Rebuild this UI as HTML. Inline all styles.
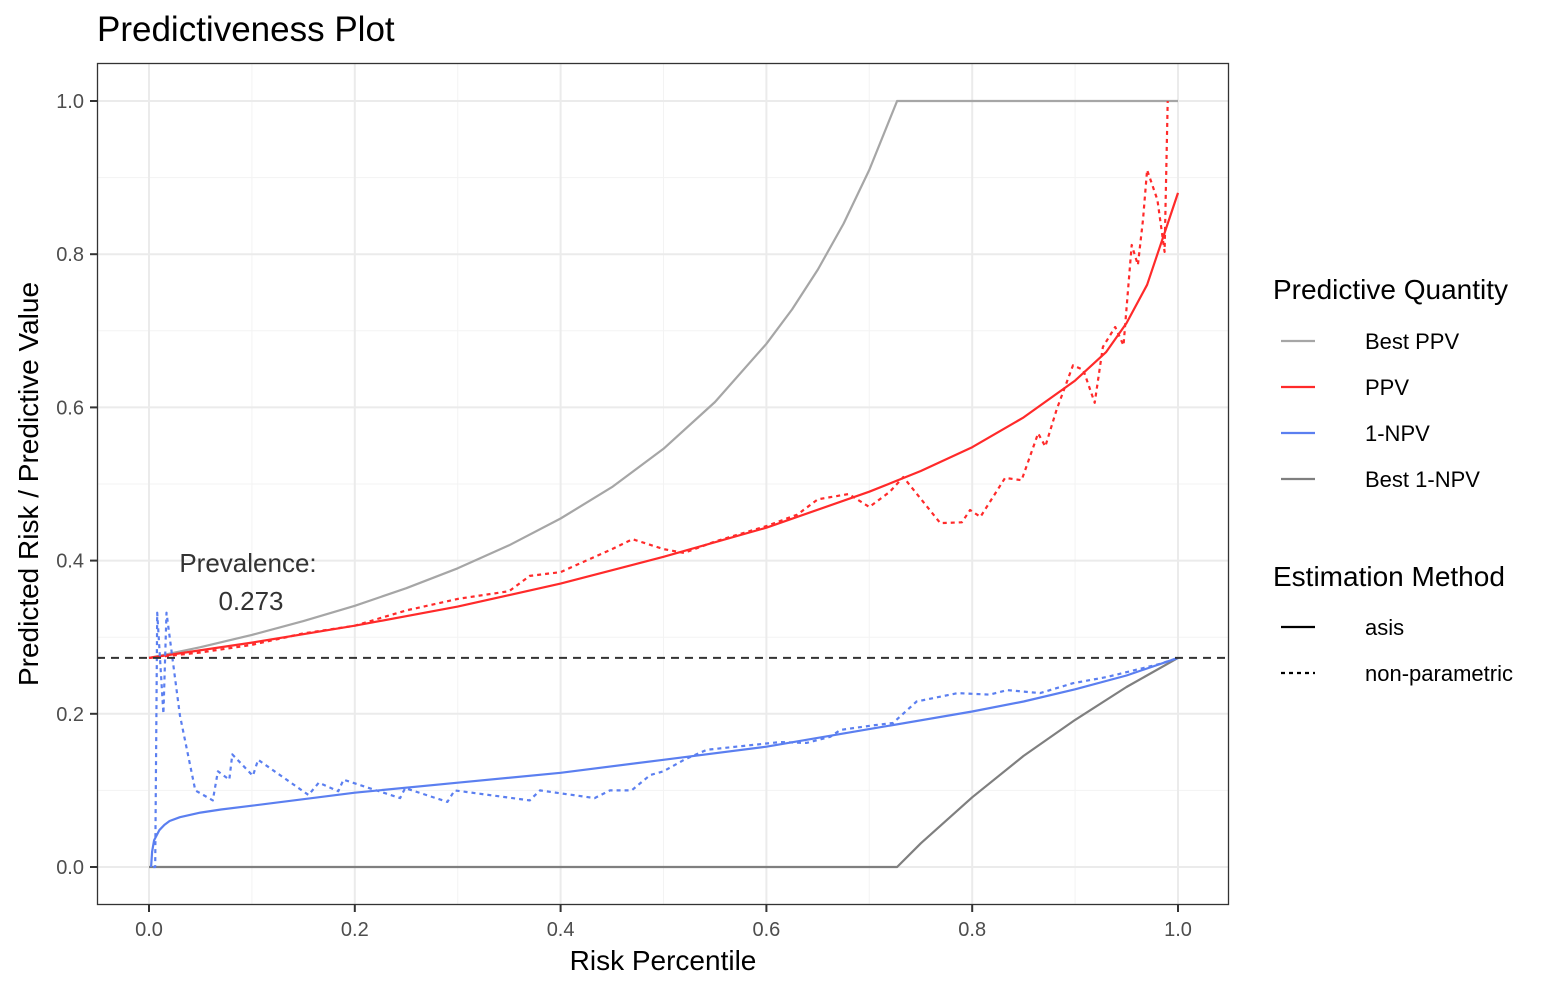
<!DOCTYPE html>
<html><head><meta charset="utf-8"><style>
body{margin:0;background:#fff;}
svg text{font-family:"Liberation Sans",sans-serif;}
</style></head><body>
<svg id="chart" width="1552" height="992" xmlns="http://www.w3.org/2000/svg">
<rect width="1552" height="992" fill="#fff"/>
<text x="97" y="41" font-size="35" fill="#000">Predictiveness Plot</text>
<g id="grid"></g><g id="series"></g><g id="axes"></g>
<text x="663" y="970" font-size="28" text-anchor="middle" fill="#000">Risk Percentile</text>
<text transform="translate(38,484) rotate(-90)" font-size="28" text-anchor="middle" fill="#000">Predicted Risk / Predictive Value</text>
<text x="248" y="572" font-size="26" text-anchor="middle" fill="#333">Prevalence:</text>
<text x="251" y="610" font-size="26" text-anchor="middle" fill="#333">0.273</text>
<g>
<text x="1273" y="299" font-size="28">Predictive Quantity</text>
<g><line x1="1281" x2="1315" y1="341" y2="341" stroke="#a6a6a6" stroke-width="2.2"/><text x="1365" y="349" font-size="22">Best PPV</text></g>
<g><line x1="1281" x2="1315" y1="387" y2="387" stroke="#ff2a2a" stroke-width="2.2"/><text x="1365" y="395" font-size="22">PPV</text></g>
<g><line x1="1281" x2="1315" y1="433" y2="433" stroke="#5b7ff0" stroke-width="2.2"/><text x="1365" y="441" font-size="22">1-NPV</text></g>
<g><line x1="1281" x2="1315" y1="479" y2="479" stroke="#7f7f7f" stroke-width="2.2"/><text x="1365" y="487" font-size="22">Best 1-NPV</text></g>
<text x="1273" y="586" font-size="28">Estimation Method</text>
<g><line x1="1281" x2="1315" y1="627" y2="627" stroke="#000" stroke-width="2.2"/><text x="1365" y="635" font-size="22">asis</text></g>
<g><line x1="1281" x2="1315" y1="673" y2="673" stroke="#000" stroke-width="2.2" stroke-dasharray="4,4"/><text x="1365" y="681" font-size="22">non-parametric</text></g>
</g>
</svg>
<script>
const xTicks=[0,0.2,0.4,0.6,0.8,1.0];
const yTicks=[0,0.2,0.4,0.6,0.8,1.0];
const prevalence=0.273;
const bestPpvX=[0,0.05,0.1,0.15,0.2,0.25,0.3,0.35,0.4,0.45,0.5,0.55,0.6,0.625,0.65,0.675,0.7,0.727,1.0];
const bestPpvY=[0.273,0.287,0.303,0.321,0.341,0.364,0.39,0.42,0.455,0.496,0.546,0.607,0.683,0.728,0.78,0.84,0.91,1.0,1.0];
const bestNpvX=[0,0.727,0.75,0.8,0.85,0.9,0.95,1.0];
const bestNpvY=[0,0,0.031,0.091,0.145,0.192,0.235,0.273];
const ppvX=[0,0.1,0.2,0.3,0.4,0.5,0.6,0.7,0.75,0.8,0.85,0.9,0.93,0.95,0.97,0.98,0.99,1.0];
const ppvY=[0.273,0.293,0.315,0.34,0.37,0.405,0.443,0.49,0.517,0.548,0.587,0.635,0.672,0.71,0.76,0.8,0.84,0.88];
const ppvNpX=[0,0.05,0.1,0.15,0.2,0.25,0.3,0.35,0.37,0.4,0.45,0.47,0.5,0.52,0.55,0.6,0.63,0.65,0.68,0.7,0.72,0.733,0.769,0.79,0.798,0.808,0.832,0.848,0.864,0.871,0.882,0.898,0.908,0.919,0.927,0.939,0.947,0.955,0.961,0.966,0.97,0.98,0.987,0.99];
const ppvNpY=[0.273,0.28,0.29,0.305,0.315,0.335,0.35,0.36,0.38,0.385,0.415,0.428,0.415,0.41,0.425,0.445,0.46,0.48,0.487,0.47,0.49,0.509,0.449,0.45,0.466,0.457,0.508,0.505,0.566,0.549,0.597,0.655,0.649,0.606,0.679,0.705,0.681,0.812,0.786,0.845,0.91,0.871,0.803,1.0];
const npvX=[0.002,0.003,0.005,0.01,0.015,0.02,0.03,0.05,0.07,0.1,0.2,0.3,0.4,0.5,0.6,0.7,0.8,0.85,0.9,0.95,1.0];
const npvY=[0,0.02,0.035,0.048,0.055,0.06,0.065,0.071,0.075,0.08,0.097,0.11,0.123,0.14,0.157,0.18,0.203,0.216,0.232,0.25,0.273];
const npvNpX=[0.004,0.006,0.008,0.014,0.017,0.03,0.045,0.062,0.067,0.078,0.081,0.101,0.106,0.155,0.165,0.184,0.189,0.244,0.249,0.29,0.297,0.37,0.38,0.433,0.448,0.469,0.487,0.5,0.52,0.542,0.613,0.639,0.662,0.672,0.704,0.723,0.746,0.786,0.817,0.834,0.866,0.898,0.931,0.982,1.0];
const npvNpY=[0,0,0.332,0.2,0.332,0.198,0.1,0.087,0.125,0.114,0.147,0.119,0.14,0.094,0.11,0.099,0.114,0.09,0.103,0.085,0.1,0.087,0.1,0.09,0.1,0.1,0.12,0.125,0.14,0.153,0.163,0.162,0.17,0.179,0.185,0.188,0.216,0.227,0.225,0.231,0.227,0.24,0.248,0.265,0.273];

const NS='http://www.w3.org/2000/svg';
const L=97,R=1229,T=63,B=905;
const sx=v=>149+v*1029;
const sy=v=>867-v*766;
function mk(tag,attrs,parent){const e=document.createElementNS(NS,tag);for(const k in attrs)e.setAttribute(k,attrs[k]);parent.appendChild(e);return e;}
const grid=document.getElementById('grid'),axes=document.getElementById('axes'),series=document.getElementById('series');
mk('rect',{x:L,y:T,width:R-L,height:B-T,fill:'#fff'},grid);
for(let i=0;i<xTicks.length-1;i++){const m=(xTicks[i]+xTicks[i+1])/2;
 const g=mk('line',{x1:sx(m),x2:sx(m),y1:T,y2:B,stroke:'#f3f3f3','stroke-width':1},grid);
 
 }
for(let i=0;i<yTicks.length-1;i++){const m=(yTicks[i]+yTicks[i+1])/2;
 const g=mk('line',{x1:L,x2:R,y1:sy(m),y2:sy(m),stroke:'#f3f3f3','stroke-width':1},grid);
 
 }
xTicks.forEach(v=>{
 const g=mk('line',{x1:sx(v),x2:sx(v),y1:T,y2:B,stroke:'#ebebeb','stroke-width':2},grid);
 
 
 mk('line',{x1:sx(v),x2:sx(v),y1:B,y2:B+7,stroke:'#333','stroke-width':2},axes);
 const t=mk('text',{x:sx(v),y:B+31,'font-size':20,'text-anchor':'middle',fill:'#4d4d4d'},axes);
 t.textContent=v.toFixed(1);
 
 
});
yTicks.forEach(v=>{
 const g=mk('line',{x1:L,x2:R,y1:sy(v),y2:sy(v),stroke:'#ebebeb','stroke-width':2},grid);
 
 
 mk('line',{x1:L-7,x2:L,y1:sy(v),y2:sy(v),stroke:'#333','stroke-width':2},axes);
 const t=mk('text',{x:L-13,y:sy(v)+7,'font-size':20,'text-anchor':'end',fill:'#4d4d4d'},axes);
 t.textContent=v.toFixed(1);
 
 
});
const border=mk('rect',{x:L+0.5,y:T+0.5,width:R-L-1,height:B-T-1,fill:'none',stroke:'#333','stroke-width':1.3},axes);


function line(xs,ys,color,dash,name){
 const d=xs.map((x,i)=>(i?'L':'M')+sx(x).toFixed(1)+','+sy(ys[i]).toFixed(1)).join('');
 const p=mk('path',{d:d,fill:'none',stroke:color,'stroke-width':2.2,'stroke-linejoin':'round'},series);
 if(dash)p.setAttribute('stroke-dasharray',dash);
 
 
}
line(bestPpvX,bestPpvY,'#a6a6a6',null,'best-ppv-line');
line(bestNpvX,bestNpvY,'#7f7f7f',null,'best-1-npv-line');
line(ppvX,ppvY,'#ff2a2a',null,'ppv-asis-line');
line(ppvNpX,ppvNpY,'#ff2a2a','4,4','ppv-nonparametric-line');
line(npvX,npvY,'#5b7ff0',null,'1-npv-asis-line');
line(npvNpX,npvNpY,'#5b7ff0','4,4','1-npv-nonparametric-line');
const pl=mk('line',{x1:L,x2:R,y1:sy(prevalence),y2:sy(prevalence),stroke:'#333','stroke-width':2,'stroke-dasharray':'8,6'},series);


</script>
</body></html>
